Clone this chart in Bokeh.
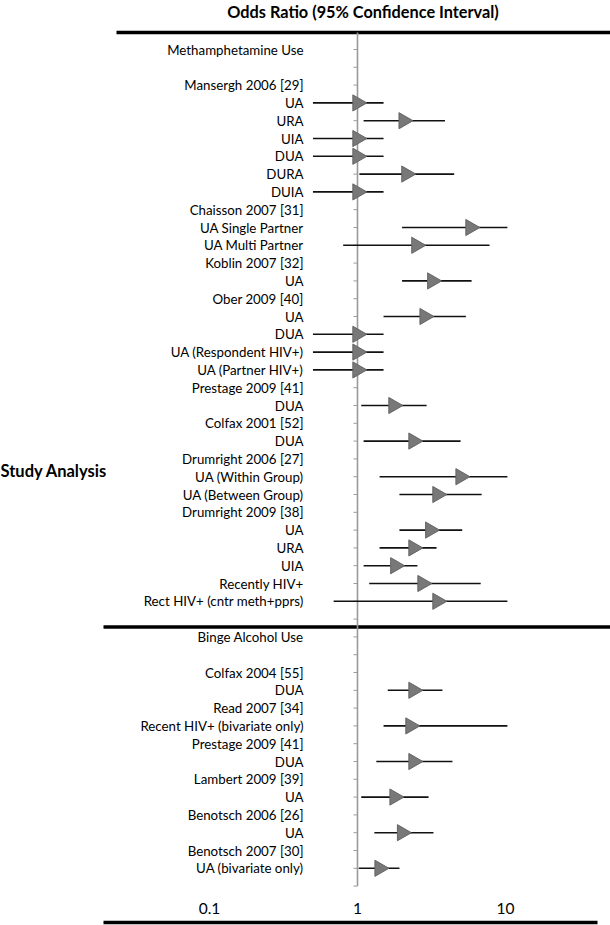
import math
from bokeh.plotting import figure
from bokeh.models import Range1d, ColumnDataSource
from bokeh.core.properties import value
from bokeh.embed import file_html
from bokeh.resources import INLINE

# ---------------- data ----------------
row_labels = [
    "Methamphetamine Use", "", "Mansergh 2006 [29]", "UA", "URA", "UIA", "DUA", "DURA", "DUIA",
    "Chaisson 2007 [31]", "UA Single Partner", "UA Multi Partner", "Koblin 2007 [32]", "UA",
    "Ober 2009 [40]", "UA", "DUA", "UA (Respondent HIV+)", "UA (Partner HIV+)",
    "Prestage 2009 [41]", "DUA", "Colfax 2001 [52]", "DUA", "Drumright 2006 [27]",
    "UA (Within Group)", "UA (Between Group)", "Drumright 2009 [38]", "UA", "URA", "UIA",
    "Recently HIV+", "Rect HIV+ (cntr meth+pprs)", "",
    "Binge Alcohol Use", "", "Colfax 2004 [55]", "DUA", "Read 2007 [34]",
    "Recent HIV+ (bivariate only)", "Prestage 2009 [41]", "DUA", "Lambert 2009 [39]", "UA",
    "Benotsch 2006 [26]", "UA", "Benotsch 2007 [30]", "UA (bivariate only)", "",
]
N = None
odds_ratio = [N, N, N, 1.00, 2.05, 1.00, 1.00, 2.14, 1.00,
              N, 5.80, 2.50, N, 3.20,
              N, 2.84, 1.00, 1.00, 1.00,
              N, 1.75, N, 2.39, N,
              4.97, 3.47, N, 3.10, 2.39, 1.80,
              2.75, 3.47, N,
              N, N, N, 2.39, N,
              2.28, N, 2.39, N, 1.78,
              N, 2.00, N, 1.41, N]
ci_low = [N, N, N, 0.50, 1.10, 0.50, 0.50, 1.03, 0.50,
          N, 2.00, 0.80, N, 2.00,
          N, 1.50, 0.50, 0.50, 0.50,
          N, 1.06, N, 1.10, N,
          1.41, 1.92, N, 1.92, 1.41, 1.10,
          1.20, 0.69, N,
          N, N, N, 1.60, N,
          1.50, N, 1.34, N, 1.06,
          N, 1.30, N, 1.02, N]
ci_high = [N, N, N, 1.50, 3.90, 1.50, 1.50, 4.50, 1.50,
           N, 10.3, 7.80, N, 5.90,
           N, 5.40, 1.50, 1.50, 1.50,
           N, 2.93, N, 4.97, N,
           10.3, 6.90, N, 5.10, 3.42, 2.54,
           6.80, 10.3, N,
           N, N, N, 3.75, N,
           10.3, N, 4.38, N, 3.02,
           N, 3.26, N, 1.92, N]
tick_values = [0.1, 1, 10]
tick_labels = ["0.1", "1", "10"]
title_text = "Odds Ratio (95% Confidence Interval)"
y_title = "Study Analysis"

# ---------------- geometry ----------------
W, H = 610, 925
ROW0_PX, ROW_STEP = 49.0, 17.8      # image y of row 1, row spacing
X1_PX, DECADE = 357.0, 148.0         # image x of OR=1, px per decade
OFF = 0                               # figure origin in the page

def row_of(py):
    return 1 + (py - ROW0_PX) / ROW_STEP

def or_of(px):
    return 10 ** ((px - X1_PX) / DECADE)

rows = list(range(1, len(row_labels) + 1))

p = figure(width=W, height=H, x_axis_type="log",
           x_range=Range1d(or_of(OFF), or_of(OFF + W)),
           y_range=Range1d(row_of(OFF + H), row_of(OFF)),
           output_backend="svg", toolbar_location=None,
           min_border=0, x_axis_location=None, y_axis_location=None)
p.grid.visible = False
p.outline_line_color = None
p.background_fill_color = "white"
p.border_fill_color = "white"

FONT = value("Lato")

# thick rules
p.segment(x0=[or_of(116), or_of(103), or_of(103)], x1=[or_of(612), or_of(612), or_of(597)],
          y0=[row_of(32), row_of(626.5), row_of(922)], y1=[row_of(32), row_of(626.5), row_of(922)],
          line_color="black", line_width=3.5)

# vertical reference line at OR = 1 and row ticks
p.segment(x0=[1], x1=[1], y0=[row_of(32)], y1=[rows[-1]], line_color="#9a9a9a", line_width=1.6)
p.segment(x0=[or_of(X1_PX - 4)] * len(rows), x1=[1] * len(rows), y0=rows, y1=rows,
          line_color="#9a9a9a", line_width=1)

# CIs and point estimates
d_rows = [r for r, v in zip(rows, odds_ratio) if v is not None]
src = ColumnDataSource(dict(
    y=d_rows,
    est=[v for v in odds_ratio if v is not None],
    lo=[v for v in ci_low if v is not None],
    hi=[v for v in ci_high if v is not None],
))
p.segment(x0="lo", x1="hi", y0="y", y1="y", source=src, line_color="#111111", line_width=1.6)
# soft shadow behind the markers
p.scatter(x="est", y="y", source=src, marker="triangle", size=18, angle=-math.pi / 2,
          fill_color="black", fill_alpha=0.12, line_color=None)
p.scatter(x="est", y="y", source=src, marker="triangle", size=16, angle=-math.pi / 2,
          fill_color="#787878", line_color="#666666", line_width=1)

# row labels
p.text(x=[or_of(303)] * len(rows), y=rows, text=row_labels, text_align="right",
       text_baseline="middle", text_font=FONT, text_font_size="13.3px", text_color="black")

# tick labels
p.text(x=tick_values, y=[row_of(908)] * 3, text=tick_labels, text_align="center",
       text_baseline="middle", text_font=FONT, text_font_size="15.5px", text_color="black")

# title and y title
p.text(x=[or_of(362.5)], y=[row_of(11)], text=[title_text], text_align="center",
       text_baseline="middle", text_font=FONT, text_font_size="16.3px", text_font_style="bold",
       text_color="black")
p.text(x=[or_of(OFF)], y=[row_of(470)], text=[y_title], text_align="left",
       text_baseline="middle", text_font=FONT, text_font_size="16.5px", text_font_style="bold",
       text_color="black")

open("out.html", "w").write(file_html(p, INLINE))
